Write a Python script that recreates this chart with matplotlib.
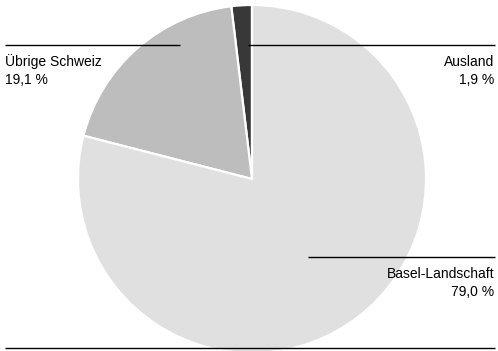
import matplotlib
matplotlib.use("Agg")
import matplotlib.pyplot as plt

categories = ["Ausland", "Übrige Schweiz", "Basel-Landschaft"]
shares = [1.9, 19.1, 79.0]
value_labels = ["1,9 %", "19,1 %", "79,0 %"]
colors = ["#383838", "#bdbdbd", "#e0e0e0"]

plt.rcParams["font.family"] = ["Liberation Sans Narrow", "Liberation Sans", "DejaVu Sans"]

W, H = 498, 351
fig = plt.figure(figsize=(W / 100, H / 100), dpi=100)
ax = fig.add_axes([0, 0, 1, 1])

ax.pie(
    shares,
    colors=colors,
    startangle=-90,
    counterclock=False,
    center=(252, 179),
    radius=174,
    wedgeprops=dict(edgecolor="white", linewidth=1.6),
    frame=True,
)
ax.set_xlim(0, W)
ax.set_ylim(H, 0)
ax.set_aspect("equal")
ax.set_axis_off()

line_kw = dict(color="black", linewidth=1.0, solid_capstyle="butt")
ax.plot([5, 180], [45, 45], **line_kw)
ax.plot([248, 495], [45, 45], **line_kw)
ax.plot([308, 495], [257, 257], **line_kw)
ax.plot([5, 495], [348, 348], **line_kw)

fs = 10
ax.text(5, 62, categories[1], fontsize=fs, ha="left", va="center")
ax.text(5, 80, value_labels[1], fontsize=fs, ha="left", va="center")
ax.text(494, 62, categories[0], fontsize=fs, ha="right", va="center")
ax.text(494, 80, value_labels[0], fontsize=fs, ha="right", va="center")
ax.text(494, 274, categories[2], fontsize=fs, ha="right", va="center")
ax.text(494, 292, value_labels[2], fontsize=fs, ha="right", va="center")

fig.savefig("out.png", dpi=100)
